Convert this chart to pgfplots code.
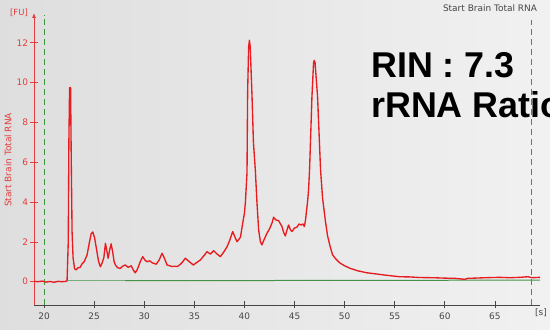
\documentclass[border=0pt]{standalone}
\usepackage{fontspec}
\setmainfont{DejaVu Sans}
\newfontfamily\arial{Liberation Sans}
\usepackage{pgfplots}
\pgfplotsset{compat=1.18}
\usetikzlibrary{arrows.meta}
\definecolor{trace}{RGB}{232,28,32}
\definecolor{axred}{RGB}{228,60,60}
\definecolor{gline}{RGB}{70,145,70}
\definecolor{glinel}{RGB}{120,175,120}
\definecolor{gdash}{RGB}{60,150,60}
\definecolor{tickgray}{RGB}{70,70,70}
\definecolor{bgl}{RGB}{222,222,222}
\definecolor{bgr}{RGB}{241,241,241}
\begin{document}
\begin{tikzpicture}
\path[use as bounding box, clip] (0bp,0bp) rectangle (550bp,330bp);
\shade[left color=bgl, right color=bgr] (0bp,0bp) rectangle (550bp,330bp);
\begin{axis}[
  at={(34bp,25bp)}, anchor=south west,
  scale only axis, width=506bp, height=292bp,
  xmin=19, xmax=69.5, ymin=-1.17, ymax=13.5,
  axis x line=bottom, axis y line=left,
  x axis line style={draw=tickgray, line width=0.8bp, -},
  y axis line style={draw=axred, line width=0.8bp, -{Latex[length=5bp,width=4bp]}},
  xtick={20,25,...,65}, ytick={0,2,...,12},
  tick align=center, major tick length=7bp,
  x tick style={draw=tickgray, line width=0.8bp},
  y tick style={draw=axred, line width=0.8bp},
  /pgf/number format/assume math mode=true,
  xticklabel style={font=\fontsize{9}{10}\selectfont, text=tickgray, yshift=-1bp},
  yticklabel style={font=\fontsize{9}{10}\selectfont, text=axred, xshift=1bp},
  clip=true,
]
% green dashed markers
\addplot[gdash, line width=0.9bp, dash pattern=on 6bp off 4bp] coordinates {(20,-1.17) (20,13.42)};
\addplot[gdash, line width=0.9bp, dash pattern=on 6bp off 4bp] coordinates {(68.67,-1.17) (68.67,13.17)};
% baseline
\addplot[glinel, line width=1bp] coordinates {(22.4,0.05) (28.1,0.05)};
\addplot[gline, line width=1bp] coordinates {(28.1,0.05) (69.5,0.08)};
% electropherogram trace
\addplot[trace, line width=1.35bp, line join=round] coordinates {
(19.0,0.02)(19.4,0.0)(19.8,0.03)(20.2,-0.02)(20.6,0.01)(21.0,-0.03)(21.4,0.02)(21.8,0.0)(22.2,0.02)
(22.3,0.05)(22.42,2.0)(22.48,7.0)(22.55,9.75)(22.65,9.75)(22.72,6.0)(22.8,2.5)(22.9,1.2)(23.05,0.65)
(23.2,0.6)(23.4,0.7)(23.6,0.72)(23.8,0.9)(24.0,1.0)(24.3,1.35)(24.5,1.9)(24.7,2.4)(24.87,2.5)(25.05,2.2)
(25.3,1.45)(25.45,1.0)(25.63,0.75)(25.8,0.95)(25.97,1.2)(26.13,1.93)(26.25,1.6)(26.4,1.18)(26.55,1.6)
(26.7,1.9)(26.85,1.5)(27.0,1.0)(27.13,0.84)(27.35,0.7)(27.6,0.67)(27.85,0.78)(28.1,0.84)(28.4,0.72)
(28.7,0.8)(28.9,0.6)(29.1,0.45)(29.3,0.6)(29.6,1.0)(29.85,1.26)(30.05,1.1)(30.29,1.0)(30.55,1.05)
(30.8,0.95)(31.2,0.88)(31.5,1.1)(31.78,1.43)(32.0,1.2)(32.28,0.84)(32.55,0.8)(32.8,0.76)(33.05,0.78)
(33.3,0.76)(33.55,0.85)(33.78,0.96)(34.1,1.18)(34.4,1.05)(34.9,0.84)(35.2,0.95)(35.6,1.09)(35.95,1.3)
(36.27,1.51)(36.6,1.39)(36.93,1.56)(37.25,1.4)(37.6,1.26)(37.95,1.5)(38.27,1.76)(38.55,2.1)(38.83,2.52)
(39.05,2.25)(39.26,2.01)(39.6,2.23)(39.85,3.0)(40.0,3.44)(40.1,4.0)(40.26,5.5)(40.32,9.5)(40.42,11.8)
(40.5,12.13)(40.58,11.8)(40.76,9.3)(40.9,7.0)(41.09,5.6)(41.25,4.0)(41.42,2.6)(41.6,2.0)(41.75,1.85)
(41.95,2.1)(42.25,2.43)(42.5,2.65)(42.75,2.94)(42.91,3.24)(43.15,3.1)(43.41,3.07)(43.6,2.9)(43.75,2.77)
(43.9,2.5)(44.08,2.3)(44.25,2.6)(44.41,2.85)(44.6,2.6)(44.75,2.52)(45.0,2.7)(45.24,2.74)(45.45,2.9)
(45.65,2.85)(45.85,2.9)(45.98,2.77)(46.1,3.1)(46.17,3.44)(46.3,4.0)(46.4,4.6)(46.5,5.6)(46.74,9.3)
(46.9,11.0)(46.97,11.12)(47.05,11.0)(47.3,9.3)(47.6,5.6)(47.8,4.2)(48.07,3.1)(48.3,2.3)(48.56,1.76)
(48.8,1.35)(49.06,1.18)(49.3,1.05)(49.56,0.93)(50.0,0.8)(50.56,0.67)(51.3,0.55)(52.2,0.45)(53.0,0.4)
(53.9,0.34)(54.6,0.3)(55.5,0.25)(56.5,0.24)(57.5,0.21)(58.9,0.2)(60.0,0.18)(61.0,0.17)(62.0,0.12)
(62.3,0.17)(63.0,0.18)(64.0,0.2)(65.5,0.22)(66.5,0.2)(67.5,0.22)(68.3,0.25)(68.7,0.2)(69.5,0.22)
};
\end{axis}
\node[rotate=90, text=axred, font=\fontsize{9}{10}\selectfont] at (8bp,170bp) {Start Brain Total RNA};
\node[text=axred, font=\fontsize{8.5}{10}\selectfont] at (19bp,317bp) {[FU]};
\node[text=tickgray, font=\fontsize{9}{10}\selectfont] at (541bp,17bp) {[s]};
\node[text=tickgray, font=\fontsize{9}{10}\selectfont] at (490bp,322bp) {Start Brain Total RNA};
\node[anchor=base west, inner sep=0pt, font=\arial\bfseries\fontsize{36}{40}\selectfont] at (371bp,252bp) {RIN : 7.3};
\node[anchor=base west, inner sep=0pt, font=\arial\bfseries\fontsize{36}{40}\selectfont] at (371bp,212bp) {rRNA Ratio};
\end{tikzpicture}
\end{document}
